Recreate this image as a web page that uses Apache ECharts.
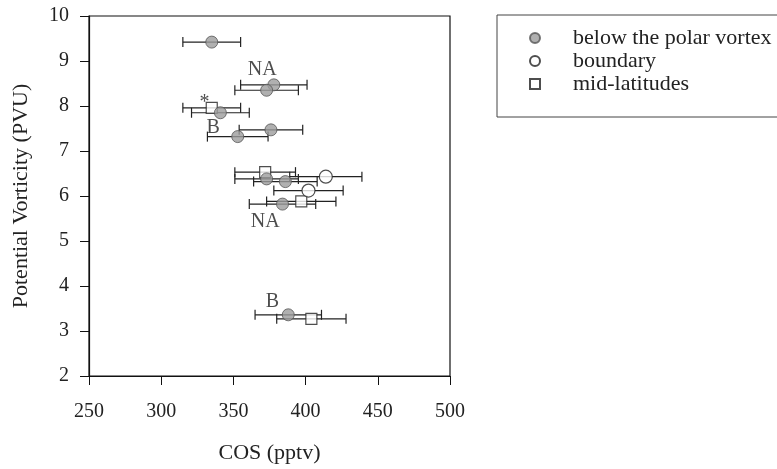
<!DOCTYPE html>
<html lang="en">
<head>
    <meta charset="UTF-8">
    <script src="https://cdn.jsdelivr.net/npm/echarts@6/dist/echarts.min.js"></script>
    <title>COS vs PV</title>
    <style>
        html, body {margin: 0; padding: 0; background: #fff;}
        #main {width: 777px; height: 469px;}
    </style>
</head>
<body>
<div id="main"></div>
<script>
    // [COS (pptv), PV (PVU), error (pptv)]
    var vortexData = [
        [335, 9.42, 20], [378, 8.47, 23], [373, 8.35, 22], [341, 7.85, 20],
        [376, 7.47, 22], [353, 7.32, 21], [373, 6.38, 22], [386, 6.32, 22],
        [384, 5.82, 23], [388, 3.36, 23]
    ];
    var boundaryData = [
        [414, 6.43, 25], [402, 6.12, 24]
    ];
    var midlatData = [
        [335, 7.96, 20], [372, 6.53, 21], [397, 5.88, 24], [404, 3.27, 24]
    ];
    // text notes next to points
    var notes = [
        [370, 8.81, 'NA'], [330, 8.08, '*'], [336, 7.52, 'B'],
        [372, 5.43, 'NA'], [377, 3.66, 'B']
    ];
    var xTicks = [250, 300, 350, 400, 450, 500];
    var yTicks = [2, 3, 4, 5, 6, 7, 8, 9, 10];

    var font = '"Liberation Serif", "Times New Roman", serif';
    var chart = echarts.init(document.getElementById('main'));

    function errorBars(data) {
        return {
            type: 'custom',
            silent: true,
            z: 1,
            data: data,
            encode: {x: 0, y: 1},
            renderItem: function (params, api) {
                var x = api.value(0), y = api.value(1), e = api.value(2);
                var a = api.coord([x - e, y]);
                var b = api.coord([x + e, y]);
                var h = 5;
                var st = {stroke: '#222', lineWidth: 1.2};
                return {
                    type: 'group',
                    children: [
                        {type: 'line', shape: {x1: a[0], y1: a[1], x2: b[0], y2: b[1]}, style: st},
                        {type: 'line', shape: {x1: a[0], y1: a[1] - h, x2: a[0], y2: a[1] + h}, style: st},
                        {type: 'line', shape: {x1: b[0], y1: b[1] - h, x2: b[0], y2: b[1] + h}, style: st}
                    ]
                };
            }
        };
    }

    var option = {
        backgroundColor: '#fff',
        animation: false,
        textStyle: {fontFamily: font},
        grid: {
            left: 89, right: 327, top: 16, bottom: 91,
            show: true, borderColor: '#111', borderWidth: 1.2
        },
        legend: {
            orient: 'vertical',
            left: 497,
            top: 15,
            padding: [12, 120, 22, 32],
            borderColor: '#444',
            borderWidth: 1,
            itemGap: 1,
            itemWidth: 10,
            itemHeight: 10,
            textStyle: {fontFamily: font, fontSize: 22, color: '#222', padding: [0, 0, 0, 28], lineHeight: 22},
            data: [
                {name: 'below the polar vortex', icon: 'circle'},
                {name: 'boundary', icon: 'circle'},
                {name: 'mid-latitudes', icon: 'rect'}
            ]
        },
        xAxis: {
            type: 'value',
            min: xTicks[0],
            max: xTicks[xTicks.length - 1],
            interval: 50,
            name: 'COS (pptv)',
            nameLocation: 'middle',
            nameGap: 66,
            nameTextStyle: {fontFamily: font, fontSize: 22, color: '#222'},
            axisLine: {lineStyle: {color: '#111', width: 1.2}},
            axisTick: {inside: false, length: 9, lineStyle: {color: '#111'}},
            axisLabel: {fontFamily: font, fontSize: 20, color: '#222', margin: 26},
            splitLine: {show: false}
        },
        yAxis: {
            type: 'value',
            min: yTicks[0],
            max: yTicks[yTicks.length - 1],
            interval: 1,
            name: 'Potential Vorticity (PVU)',
            nameLocation: 'middle',
            nameGap: 57,
            nameTextStyle: {fontFamily: font, fontSize: 22, color: '#222'},
            axisLine: {lineStyle: {color: '#111', width: 1.2}},
            axisTick: {inside: false, length: 9, lineStyle: {color: '#111'}},
            axisLabel: {fontFamily: font, fontSize: 20, color: '#222', margin: 20},
            splitLine: {show: false}
        },
        series: [
            errorBars(vortexData),
            errorBars(boundaryData),
            errorBars(midlatData),
            {
                name: 'mid-latitudes',
                type: 'scatter',
                z: 3,
                symbol: 'rect',
                symbolSize: 11,
                data: midlatData,
                itemStyle: {color: '#fff', borderColor: '#222', borderWidth: 1.2}
            },
            {
                name: 'boundary',
                type: 'scatter',
                z: 3,
                symbol: 'circle',
                symbolSize: 13,
                data: boundaryData,
                itemStyle: {color: '#fff', borderColor: '#222', borderWidth: 1.2}
            },
            {
                name: 'below the polar vortex',
                type: 'scatter',
                z: 4,
                symbol: 'circle',
                symbolSize: 12,
                data: vortexData,
                itemStyle: {color: '#9c9c9c', borderColor: '#555', borderWidth: 1}
            },
            {
                type: 'scatter',
                z: 5,
                silent: true,
                symbolSize: 0,
                data: notes,
                label: {
                    show: true,
                    position: 'inside',
                    fontFamily: font,
                    fontSize: 20,
                    color: '#222',
                    formatter: function (p) { return p.value[2]; }
                }
            }
        ]
    };
    chart.setOption(option);
</script>
</body>
</html>
